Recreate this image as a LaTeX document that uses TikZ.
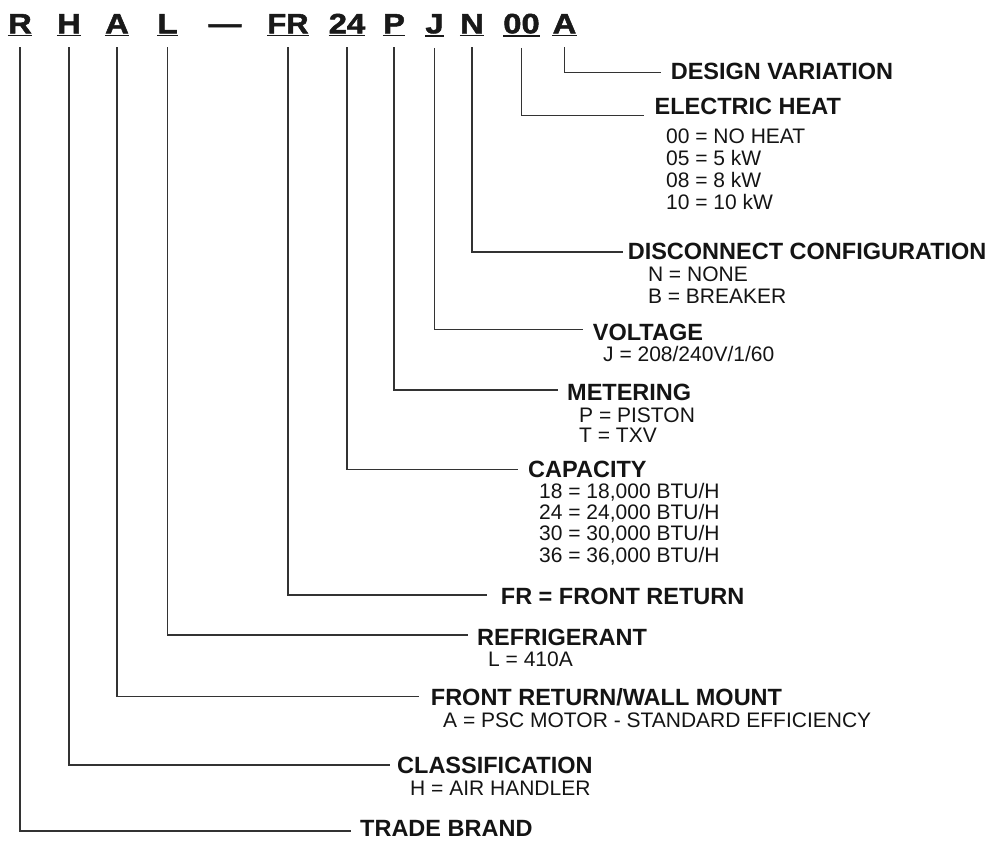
\documentclass[tikz,border=0pt]{standalone}
\usepackage{fontspec}
\setmainfont{Liberation Sans}
\newfontfamily\heavyfont[FakeBold=1.6]{Liberation Sans Bold}
\newcommand\widen[1]{\scalebox{1.17}[1]{#1}}
\begin{document}
\begin{tikzpicture}[x=1pt,y=-1pt,
  code/.style={font=\fontsize{28}{30}\selectfont\heavyfont, anchor=base, inner xsep=0pt, inner ysep=2pt, text=black!90},
  uline/.style={line width=1.8pt, draw=black!90},
  title/.style={font=\fontsize{23.5}{26}\selectfont\bfseries, anchor=base west, inner sep=0pt, text=black!92},
  sub/.style={font=\fontsize{21}{24}\selectfont, anchor=base west, inner sep=0pt, text=black!92},
  lead/.style={line width=1.1pt, draw=black!80}]
\useasboundingbox (0,0) rectangle (1006,842);

% code letters
\node[code] (kR)  at (20,33.3)    {\widen{R}};
\node[code] (kH)  at (69,33.3)    {\widen{H}};
\node[code] (kA)  at (117,33.3)   {\widen{A}};
\node[code] (kL)  at (167.5,33.3) {\widen{L}};
\node[code,inner ysep=0pt] (dash) at (225,33.3) {\widen{—}};
\node[code] (kFR) at (288,33.3)   {\scalebox{1.1}[1]{FR}};
\node[code] (k24) at (347,33.3)   {\widen{24}};
\node[code] (kP)  at (394,33.3)   {\widen{P}};
\node[code] (kJ)  at (434.5,33.3) {\widen{J}};
\node[code] (kN)  at (472,33.3)   {\widen{N}};
\node[code] (k00) at (521.5,33.3) {\widen{00}};
\node[code] (kA2) at (564.5,33.3) {\widen{A}};
\foreach \k in {kR,kH,kA,kL,kFR,k24,kP,kJ,kN,k00,kA2}
  \draw[uline] (\k.south west) -- (\k.south east);

% line end points
\coordinate (eA2) at (661,72.8);
\coordinate (e00) at (644,115.4);
\coordinate (eN)  at (622.6,252);
\coordinate (eJ)  at (583,329.3);
\coordinate (eP)  at (558,390);
\coordinate (e24) at (518,469.3);
\coordinate (eFR) at (486.7,595);
\coordinate (eL)  at (468,635);
\coordinate (eA)  at (419,696.7);
\coordinate (eH)  at (390,765);
\coordinate (eR)  at (350.7,831);

\foreach \k/\e in {kA2/eA2,k00/e00,kN/eN,kJ/eJ,kP/eP,k24/e24,kFR/eFR,kL/eL,kA/eA,kH/eH,kR/eR}
  \draw[lead] ([yshift=-12pt]\k.south) |- (\e);

% labels
\node[title] (tDV) at (670.6,79.5) {DESIGN VARIATION};

\node[title] (tEH) at (654.5,114.4) {ELECTRIC HEAT};
\node[sub] (sEH1) at (666,144)   {00 = NO HEAT};
\node[sub] (sEH2) at (666,165.8) {05 = 5 kW};
\node[sub] (sEH3) at (666,187.6) {08 = 8 kW};
\node[sub] (sEH4) at (666,209.4) {10 = 10 kW};

\node[title] (tDC) at (627.6,259.6) {DISCONNECT CONFIGURATION};
\node[sub] (sDC1) at (647.8,281.5) {N = NONE};
\node[sub] (sDC2) at (647.8,303)   {B = BREAKER};

\node[title] (tV) at (592.7,340) {VOLTAGE};
\node[sub] (sV1) at (603,361.7) {J = 208/240V/1/60};

\node[title] (tM) at (567,400) {METERING};
\node[sub] (sM1) at (579,422.7) {P = PISTON};
\node[sub] (sM2) at (579,442.7) {T = TXV};

\node[title] (tC) at (528,477) {CAPACITY};
\node[sub] (sC1) at (539,498)   {18 = 18,000 BTU/H};
\node[sub] (sC2) at (539,519.3) {24 = 24,000 BTU/H};
\node[sub] (sC3) at (539,540.7) {30 = 30,000 BTU/H};
\node[sub] (sC4) at (539,562)   {36 = 36,000 BTU/H};

\node[title] (tFR) at (500.7,604) {FR = FRONT RETURN};

\node[title] (tR) at (477,645) {REFRIGERANT};
\node[sub] (sR1) at (488,666) {L = 410A};

\node[title] (tW) at (430.7,705) {FRONT RETURN/WALL MOUNT};
\node[sub] (sW1) at (443,727) {A = PSC MOTOR - STANDARD EFFICIENCY};

\node[title] (tCl) at (397,773) {CLASSIFICATION};
\node[sub] (sCl1) at (410,795) {H = AIR HANDLER};

\node[title] (tTB) at (360,836.7) {TRADE BRAND};
\end{tikzpicture}
\end{document}
